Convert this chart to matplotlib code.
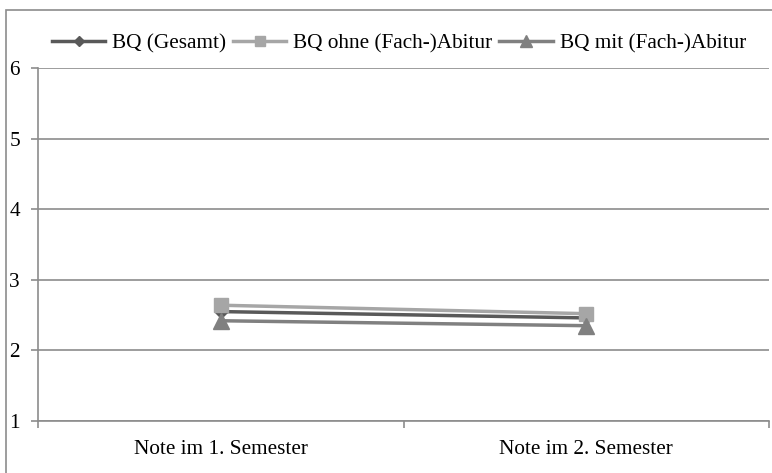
import matplotlib.pyplot as plt
from matplotlib.patches import Rectangle
from matplotlib.lines import Line2D

# Chart data
categories = ['Note im 1. Semester', 'Note im 2. Semester']
series_names = ['BQ (Gesamt)', 'BQ ohne (Fach-)Abitur', 'BQ mit (Fach-)Abitur']
gesamt = [2.55, 2.46]
ohne_abitur = [2.64, 2.52]
mit_abitur = [2.42, 2.35]

colors = ['#595959', '#a6a6a6', '#808080']
markers = ['D', 's', '^']
marker_sizes = [6, 10, 11]

plt.rcParams['font.family'] = ['Liberation Serif', 'DejaVu Serif']

fig = plt.figure(figsize=(7.72, 4.73), dpi=100)
ax = fig.add_axes([38 / 772, 1 - 421 / 473, (769 - 38) / 772, (421 - 68) / 473])

# Outer chart frame
fig.patches.append(Rectangle((6 / 772, -0.1), 1.2, 1 - 10 / 473 + 0.1,
                             transform=fig.transFigure, fill=False,
                             edgecolor='#8c8c8c', lw=1.2, zorder=0))

x = list(range(len(categories)))
for vals, name, c, m, ms in zip([gesamt, ohne_abitur, mit_abitur], series_names,
                                colors, markers, marker_sizes):
    ax.plot(x, vals, color=c, lw=2.5, marker=m, markersize=ms,
            markeredgecolor=c, label=name, zorder=3)

ax.set_xlim(-0.5, 1.5)
ax.set_ylim(1, 6)
ax.set_yticks([1, 2, 3, 4, 5, 6])
ax.yaxis.grid(True, color='#8c8c8c', lw=1.2)
ax.set_axisbelow(True)

ax.set_xticks([-0.5, 0.5, 1.5])
ax.set_xticklabels([])
ax.set_xticks(x, minor=True)
ax.set_xticklabels(categories, minor=True, fontsize=15.3)
ax.tick_params(axis='x', which='minor', length=0, pad=14)
ax.tick_params(axis='x', which='major', length=5, color='#8c8c8c', width=1.2)
ax.tick_params(axis='y', length=5, color='#8c8c8c', width=1.2, labelsize=15.3, pad=8)

for s in ['top', 'right']:
    ax.spines[s].set_visible(False)
for s in ['left', 'bottom']:
    ax.spines[s].set_color('#8c8c8c')
    ax.spines[s].set_linewidth(1.2)

# Legend with smaller markers
leg_sizes = [5, 7, 8]
leg_handles = [Line2D([], [], color=c, lw=2.5, marker=m, markersize=s, markeredgecolor=c)
               for c, m, s in zip(colors, markers, leg_sizes)]
fig.legend(leg_handles, series_names, loc='center left',
           bbox_to_anchor=(52 / 772, 1 - 44 / 473), ncol=3, frameon=False,
           fontsize=15.3, handlelength=2.5, handletextpad=0.33, columnspacing=0.33,
           borderaxespad=0, borderpad=0)

fig.savefig('out.png', dpi=100)
